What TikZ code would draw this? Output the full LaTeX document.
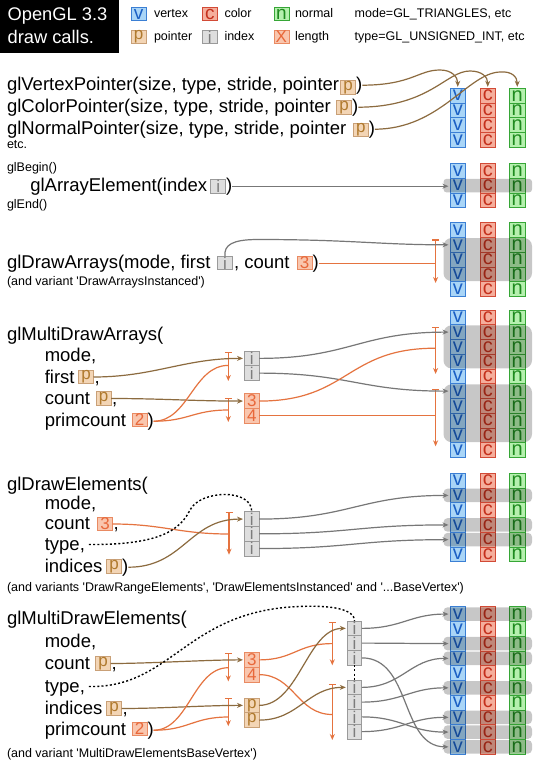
\documentclass[tikz,border=0pt]{standalone}
\usepackage{fontspec}
\setmainfont{Liberation Sans}
\usetikzlibrary{arrows.meta,calc}
\definecolor{vfill}{HTML}{A9D5F7}
\definecolor{vdraw}{HTML}{3B7FD4}
\definecolor{vtext}{HTML}{1A5FC4}
\definecolor{cfill}{HTML}{F5AE9C}
\definecolor{cdraw}{HTML}{D24A36}
\definecolor{ctext}{HTML}{C4301C}
\definecolor{nfill}{HTML}{B5F0AE}
\definecolor{ndraw}{HTML}{36A636}
\definecolor{ntext}{HTML}{1E8A1E}
\definecolor{pfill}{HTML}{F3D5B5}
\definecolor{pdraw}{HTML}{C9A077}
\definecolor{ptext}{HTML}{B07A2E}
\definecolor{ifill}{HTML}{DEDEDE}
\definecolor{idraw}{HTML}{9A9A9A}
\definecolor{itext}{HTML}{7C7C7C}
\definecolor{lfill}{HTML}{F9C6AE}
\definecolor{ldraw}{HTML}{E98A62}
\definecolor{ltext}{HTML}{E8683A}
\definecolor{ptrc}{HTML}{8C6B3F}
\definecolor{lenc}{HTML}{E5733F}
\definecolor{idxc}{HTML}{777777}
\tikzset{
 every node/.style={inner sep=0pt, outer sep=0pt},
 mtxt/.style={anchor=base west, font=\fontsize{18.5}{22}\selectfont},
 stxt/.style={anchor=base west, font=\fontsize{12.5}{15}\selectfont},
 ttxt/.style={anchor=base west, text=white, font=\fontsize{18.3}{22}\selectfont},
 bx/.style={draw, line width=0.8pt, minimum width=15pt, minimum height=13.5pt, font=\fontsize{17}{17}\selectfont},
 pbx/.style={bx, fill=pfill, draw=pdraw, text=ptext},
 ibx/.style={bx, fill=ifill, draw=idraw, text=itext},
 lbx/.style={bx, fill=lfill, draw=ldraw, text=ltext},
 vbx/.style={bx, fill=vfill, draw=vdraw, text=vtext, font=\fontsize{19}{19}\selectfont},
 cbx/.style={bx, fill=cfill, draw=cdraw, text=ctext, font=\fontsize{19}{19}\selectfont},
 nbx/.style={bx, fill=nfill, draw=ndraw, text=ntext, font=\fontsize{19}{19}\selectfont},
 cl/.style={draw, line width=0.8pt, anchor=north west, minimum width=15.5pt, minimum height=14.75pt, font=\fontsize{20}{20}\selectfont},
 vcl/.style={cl, fill=vfill, draw=vdraw, text=vtext},
 ccl/.style={cl, fill=cfill, draw=cdraw, text=ctext},
 ncl/.style={cl, fill=nfill, draw=ndraw, text=ntext},
 mcl/.style={draw, line width=0.8pt, anchor=north west, minimum width=14.5pt, minimum height=14.75pt, font=\fontsize{17}{17}\selectfont},
 icl/.style={mcl, fill=ifill, draw=idraw, text=itext},
 lcl/.style={mcl, fill=lfill, draw=ldraw, text=ltext},
 pcl/.style={mcl, fill=pfill, draw=pdraw, text=ptext},
 hbnd/.style={fill=black, fill opacity=0.22},
 idxl/.style={draw=idxc, line width=1.2pt, -{Stealth[length=6pt,width=5pt]}, shorten >=1.5pt},
 ptrl/.style={draw=ptrc, line width=1.2pt, -{Stealth[length=6pt,width=5pt]}, shorten >=1.5pt},
 lenl/.style={draw=lenc, line width=1.2pt},
 brkt/.style={draw=lenc, line width=1.2pt, {Bar[width=7pt]}-{Stealth[length=6pt,width=5pt]}},
 dotl/.style={draw=black, line width=1.4pt, dash pattern=on 2pt off 2.2pt},
}
\newcommand\scon[4]{\draw[#1] (#2) .. controls ($(#2)+(#4,0)$) and ($(#3)-(#4,0)$) .. (#3);}
\newcommand\hlband[4]{\path[hbnd, rounded corners=#4] ([xshift=-6.5pt,yshift=-0.6pt]v#1-#2.north west) rectangle ([xshift=7pt,yshift=0.6pt]n#1-#3.south east);}
\begin{document}
\begin{tikzpicture}[x=1pt,y=-1pt]
\fill[white] (0,0) rectangle (540,760);
\useasboundingbox (0,0) rectangle (540,760);
% title
\node[fill=black, minimum width=119pt, minimum height=53.4pt, anchor=north west] (title) at (0,0) {};
\node[ttxt] (tl1) at (7.6,20.5) {OpenGL 3.3};
\node[ttxt] (tl2) at (7.6,44) {draw calls.};
% legend
\node[vbx] (lv) at (138.6,14) {v};
\node[stxt] (lvt) at (154,17.5) {vertex};
\node[cbx] (lc) at (209.8,14) {c};
\node[stxt] (lct) at (224.5,17.5) {color};
\node[nbx] (ln) at (281.4,14) {n};
\node[stxt] (lnt) at (295,17.5) {normal};
\node[stxt] (lm) at (354.7,17.5) {mode=GL\_TRIANGLES, etc};
\node[pbx] (lp) at (138.6,37) {p};
\node[stxt] (lpt) at (154,40.5) {pointer};
\node[ibx] (li) at (209.8,37) {i};
\node[stxt] (lit) at (224.5,40.5) {index};
\node[lbx] (ll) at (281.4,37) {X};
\node[stxt] (llt) at (295,40.5) {length};
\node[stxt] (lty) at (354.7,40.5) {type=GL\_UNSIGNED\_INT, etc};
% columns
\foreach \s/\t/\n in {1/88.3/4, 2/163.5/3, 3/222.7/5, 4/310/10, 5/473.3/6, 6/606.7/10} {
  \foreach \r in {1,...,\n} {
    \node[vcl] (v\s-\r) at (450, {\t+(\r-1)*14.75}) {v};
    \node[ccl] (c\s-\r) at (480, {\t+(\r-1)*14.75}) {c};
    \node[ncl] (n\s-\r) at (509.5, {\t+(\r-1)*14.75}) {n};
  }
}
% highlight bands
\hlband{2}{2}{2}{3pt}
\hlband{3}{2}{4}{8pt}
\hlband{4}{2}{4}{8pt}
\hlband{4}{6}{9}{8pt}
\hlband{5}{2}{2}{4pt}
\hlband{5}{4}{4}{4pt}
\hlband{5}{5}{5}{4pt}
\foreach \r in {1,3,4,6,8,9,10} {\hlband{6}{\r}{\r}{4pt}}
% ---------- section 1
\node[mtxt] (a1) at (7,90) {glVertexPointer(size, type, stride, pointer};
\node[pbx] (a1p) at ([xshift=9pt,yshift=2.5pt]a1.base east) {p};
\node[mtxt] (a1c) at ([xshift=0.5pt]a1p.east |- a1.base) {)};
\node[mtxt] (a2) at (7,112) {glColorPointer(size, type, stride, pointer};
\node[pbx] (a2p) at ([xshift=13.2pt,yshift=4.5pt]a2.base east) {p};
\node[mtxt] (a2c) at ([xshift=0.5pt]a2p.east |- a2.base) {)};
\node[mtxt] (a3) at (7,134) {glNormalPointer(size, type, stride, pointer};
\node[pbx] (a3p) at ([xshift=14.5pt,yshift=4pt]a3.base east) {p};
\node[mtxt] (a3c) at ([xshift=0.5pt]a3p.east |- a3.base) {)};
\node[stxt] (a4) at (7,148) {etc.};
\draw[ptrl] (a1c.east) .. controls (412,85) and (418,70) .. (440,70) .. controls (452,70) and (457.75,77) .. (v1-1.north);
\draw[ptrl] (a2c.east) .. controls (430,107) and (446,71) .. (470,71) .. controls (482,71) and (487.75,77) .. (c1-1.north);
\draw[ptrl] (a3c.east) .. controls (440,129) and (468,73) .. (500,72) .. controls (512,71) and (517.25,77) .. (n1-1.north);
% ---------- section 2
\node[stxt] (b0) at (7,171) {glBegin()};
\node[mtxt] (b1) at (30.3,191) {glArrayElement(index};
\node[ibx] (b1i) at ([xshift=11pt,yshift=4.5pt]b1.base east) {i};
\node[mtxt] (b1c) at ([xshift=0.5pt]b1i.east |- b1.base) {)};
\node[stxt] (b2) at (7,208) {glEnd()};
\draw[idxl] (b1c.east) -- (b1c.east -| v2-2.west);
% ---------- section 3
\node[mtxt] (c1) at (7,268) {glDrawArrays(mode, first};
\node[ibx] (c1i) at ([xshift=14.5pt,yshift=5pt]c1.base east) {i};
\node[mtxt] (c1b) at ([xshift=1.5pt]c1i.east |- c1.base) {, count};
\node[lbx] (c1l) at ([xshift=15pt,yshift=5pt]c1b.base east) {3};
\node[mtxt] (c1c) at ([xshift=0.5pt]c1l.east |- c1.base) {)};
\node[stxt] (c2) at (7,285) {(and variant \textquotesingle DrawArraysInstanced\textquotesingle)};
\coordinate (k3t) at (435.6,239.3);
\coordinate (k3b) at (435.6,283);
\coordinate (k3w) at (258,239.5);
\draw[brkt] (k3t) -- (k3b);
\draw[lenl] (c1c.east) -- (c1c.east -| k3t);
\draw[idxl] (c1i.north) .. controls (223.8,245) and (232,239.5) .. (k3w) .. controls (350,239.5) and (380,244.8) .. (v3-2.west);
% ---------- section 4
\node[mtxt] (d0) at (7,340) {glMultiDrawArrays(};
\node[mtxt] (d1) at (44.8,361) {mode,};
\node[mtxt] (d2) at (44.8,383) {first};
\node[pbx] (d2p) at ([xshift=11.4pt,yshift=6pt]d2.base east) {p};
\node[mtxt] (d2c) at ([xshift=1pt]d2p.east |- d2.base) {,};
\node[mtxt] (d3) at (44.8,404.5) {count};
\node[pbx] (d3p) at ([xshift=13.5pt,yshift=6pt]d3.base east) {p};
\node[mtxt] (d3c) at ([xshift=1pt]d3p.east |- d3.base) {,};
\node[mtxt] (d4) at (44.8,426) {primcount};
\node[lbx] (d4l) at ([xshift=13.5pt,yshift=6pt]d4.base east) {2};
\node[mtxt] (d4c) at ([xshift=0.5pt]d4l.east |- d4.base) {)};
\node[icl] (i4-1) at (244.5,351) {i};
\node[icl] (i4-2) at (244.5,365.75) {i};
\node[lcl] (l4-1) at (244.5,393.7) {3};
\node[lcl] (l4-2) at (244.5,408.45) {4};
\coordinate (k4at) at (228.3,351.6); \coordinate (k4ab) at (228.3,381); \coordinate (k4am) at (228.3,365.4);
\coordinate (k4bt) at (228.3,397.5); \coordinate (k4bb) at (228.3,422); \coordinate (k4bm) at (228.3,410);
\coordinate (k4ct) at (435.6,326.9); \coordinate (k4cb) at (435.6,374); \coordinate (k4cm) at (435.6,348.2);
\coordinate (k4dt) at (435.6,388.8); \coordinate (k4db) at (435.6,446.3);
\draw[brkt] (k4at) -- (k4ab);
\draw[brkt] (k4bt) -- (k4bb);
\draw[brkt] (k4ct) -- (k4cb);
\draw[brkt] (k4dt) -- (k4db);
\scon{ptrl}{d2p.east}{i4-1.west}{60}
\scon{ptrl}{d3p.east}{l4-1.west}{50}
\scon{lenl}{d4c.east}{k4am}{35}
\scon{lenl}{d4c.east}{k4bm}{35}
\scon{idxl}{i4-1.east}{v4-2.west}{90}
\scon{idxl}{i4-2.east}{v4-6.west}{90}
\scon{lenl}{l4-1.east}{k4cm}{90}
\draw[lenl] (l4-2.east) -- (l4-2.east -| k4dt);
% ---------- section 5
\node[mtxt] (e0) at (7,490.5) {glDrawElements(};
\node[mtxt] (e1) at (44.8,509) {mode,};
\node[mtxt] (e2) at (44.8,529.5) {count};
\node[lbx] (e2l) at ([xshift=15pt,yshift=5.5pt]e2.base east) {3};
\node[mtxt] (e2c) at ([xshift=1pt]e2l.east |- e2.base) {,};
\node[mtxt] (e3) at (44.8,550) {type,};
\node[mtxt] (e4) at (44.8,572) {indices};
\node[pbx] (e4p) at ([xshift=11.8pt,yshift=5.5pt]e4.base east) {p};
\node[mtxt] (e4c) at ([xshift=0.5pt]e4p.east |- e4.base) {)};
\node[stxt] (e5) at (7,591) {(and variants \textquotesingle DrawRangeElements\textquotesingle, \textquotesingle DrawElementsInstanced\textquotesingle\ and \textquotesingle...BaseVertex\textquotesingle)};
\node[icl] (i5-1) at (244.5,511.7) {i};
\node[icl] (i5-2) at (244.5,526.45) {i};
\node[icl] (i5-3) at (244.5,541.2) {i};
\coordinate (k5t) at (229,511.7); \coordinate (k5b) at (229,554.7); \coordinate (k5m) at (229,534);
\coordinate (e3s) at ([xshift=4pt,yshift=5.5pt]e3.base east);
\draw[brkt] (k5t) -- (k5b);
\scon{lenl}{e2l.east}{k5m}{50}
\scon{ptrl}{e4c.east}{i5-1.west}{55}
\draw[dotl] (e3s) .. controls (160,545) and (180,530) .. (190,510) .. controls (200,490) and (252,488) .. (i5-1.north);
\scon{idxl}{i5-1.east}{v5-2.west}{90}
\scon{idxl}{i5-2.east}{v5-4.west}{90}
\scon{idxl}{i5-3.east}{v5-5.west}{90}
% ---------- section 6
\node[mtxt] (f0) at (7,624.5) {glMultiDrawElements(};
\node[mtxt] (f1) at (44.8,647) {mode,};
\node[mtxt] (f2) at (44.8,669) {count};
\node[pbx] (f2p) at ([xshift=13pt,yshift=5.5pt]f2.base east) {p};
\node[mtxt] (f2c) at ([xshift=1pt]f2p.east |- f2.base) {,};
\node[mtxt] (f3) at (44.8,692) {type,};
\node[mtxt] (f4) at (44.8,714) {indices};
\node[pbx] (f4p) at ([xshift=11.8pt,yshift=5.5pt]f4.base east) {p};
\node[mtxt] (f4c) at ([xshift=1pt]f4p.east |- f4.base) {,};
\node[mtxt] (f5) at (44.8,735) {primcount};
\node[lbx] (f5l) at ([xshift=13.5pt,yshift=6pt]f5.base east) {2};
\node[mtxt] (f5c) at ([xshift=0.5pt]f5l.east |- f5.base) {)};
\node[stxt] (f6) at (7,757) {(and variant \textquotesingle MultiDrawElementsBaseVertex\textquotesingle)};
\node[lcl] (l6-1) at (244.5,652.5) {3};
\node[lcl] (l6-2) at (244.5,667.25) {4};
\node[pcl] (p6-1) at (244.5,698) {p};
\node[pcl] (p6-2) at (244.5,712.75) {p};
\foreach \k in {1,2,3} {\node[icl] (u6-\k) at (347.3,{621+(\k-1)*14.75}) {i};}
\foreach \k in {1,2,3,4} {\node[icl] (d6-\k) at (347.3,{680+(\k-1)*14.75}) {i};}
\coordinate (k6at) at (228.3,653.2); \coordinate (k6ab) at (228.3,681.4); \coordinate (k6am) at (228.3,667.7);
\coordinate (k6bt) at (228.3,698); \coordinate (k6bb) at (228.3,726.2); \coordinate (k6bm) at (228.3,717);
\coordinate (k6ct) at (332.3,621.5); \coordinate (k6cb) at (332.3,665.3); \coordinate (k6cm) at (332.3,643.6);
\coordinate (k6dt) at (332.3,683.5); \coordinate (k6db) at (332.3,740); \coordinate (k6dm) at (332.3,714.5);
\coordinate (f3s) at ([xshift=4pt,yshift=5.5pt]f3.base east);
\draw[brkt] (k6at) -- (k6ab);
\draw[brkt] (k6bt) -- (k6bb);
\draw[brkt] (k6ct) -- (k6cb);
\draw[brkt] (k6dt) -- (k6db);
\scon{ptrl}{f2p.east}{l6-1.west}{40}
\scon{ptrl}{f4p.east}{p6-1.west}{40}
\scon{lenl}{f5c.east}{k6am}{35}
\scon{lenl}{f5c.east}{k6bm}{35}
\scon{lenl}{l6-1.east}{k6cm}{35}
\scon{lenl}{l6-2.east}{k6dm}{35}
\scon{ptrl}{p6-1.east}{u6-1.west}{40}
\scon{ptrl}{p6-2.east}{d6-1.west}{40}
\draw[dotl] (f3s) .. controls (170,688) and (185,615) .. (290,607) .. controls (335,604) and (354.6,610) .. (u6-1.north);
\draw[dotl] (u6-3.south) -- (d6-1.north);
\scon{idxl}{u6-1.east}{v6-1.west}{40}
\scon{idxl}{u6-2.east}{v6-3.west}{40}
\scon{idxl}{u6-3.east}{v6-10.west}{50}
\scon{idxl}{d6-1.east}{v6-4.west}{40}
\scon{idxl}{d6-2.east}{v6-6.west}{40}
\scon{idxl}{d6-3.east}{v6-9.west}{40}
\scon{idxl}{d6-4.east}{v6-8.west}{40}
\end{tikzpicture}
\end{document}
